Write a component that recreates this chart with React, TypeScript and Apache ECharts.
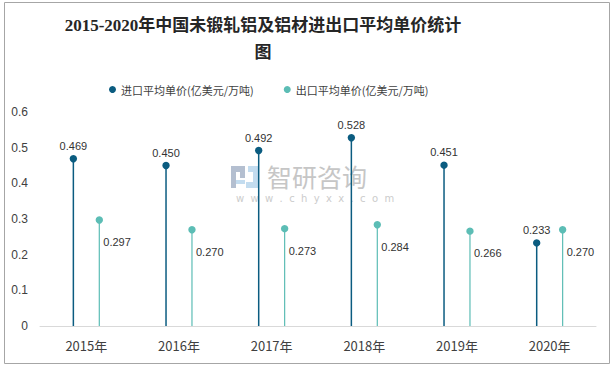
import React, { useEffect, useRef } from "react";
import * as echarts from "echarts";

const years = ["2015年", "2016年", "2017年", "2018年", "2019年", "2020年"];
const importPrice = [0.469, 0.45, 0.492, 0.528, 0.451, 0.233];
const exportPrice = [0.297, 0.27, 0.273, 0.284, 0.266, 0.27];
const yTicks = { min: 0, max: 0.6, interval: 0.1 };
const seriesNames = ["进口平均单价(亿美元/万吨)", "出口平均单价(亿美元/万吨)"];
const titleText = "2015-2020年中国未锻轧铝及铝材进出口平均单价统计\n图";

const IMPORT_COLOR = "#0b5c80";
const EXPORT_COLOR = "#5cbdb5";
const LABEL_FONT = "Liberation Sans, Noto Sans, sans-serif";

function makeRender(color: string, side: number, lineWidth: number, isImport: boolean) {
  return (params: any, api: any) => {
    const idx = api.value(0);
    const v = api.value(1);
    const top = api.coord([idx, v]);
    const base = api.coord([idx, 0]);
    const band = api.size([1, 0])[0];
    const dx = side * band * 0.14;
    const cx = top[0] + dx;
    const cy = top[1];
    return {
      type: "group",
      children: [
        {
          type: "line",
          shape: { x1: cx, y1: cy, x2: base[0] + dx, y2: base[1] },
          style: { stroke: color, lineWidth },
        },
        {
          type: "circle",
          shape: { cx, cy, r: 3.7 },
          style: { fill: color },
        },
        {
          type: "text",
          style: isImport
            ? {
                text: v.toFixed(3),
                x: cx,
                y: cy - 13,
                align: "center",
                verticalAlign: "middle",
                fill: "#333333",
                font: `11px ${LABEL_FONT}`,
              }
            : {
                text: v.toFixed(3),
                x: cx + 4,
                y: cy + 22,
                align: "left",
                verticalAlign: "middle",
                fill: "#333333",
                font: `11px ${LABEL_FONT}`,
              },
        },
      ],
    };
  };
}

export default function App() {
  const ref = useRef<HTMLDivElement>(null);
  useEffect(() => {
    if (!ref.current) return;
    const chart = echarts.init(ref.current, null, { renderer: "svg" });
    chart.setOption({
      animation: false,
      backgroundColor: "#ffffff",
      graphic: [
        {
          type: "rect",
          shape: { x: 4.5, y: 2.5, width: 605, height: 361 },
          style: { fill: "none", stroke: "#a6a6a6", lineWidth: 1 },
          z: 0,
        },
        {
          type: "text",
          x: 263,
          y: 12,
          style: {
            text: titleText,
            align: "center",
            verticalAlign: "top",
            lineHeight: 27,
            fill: "#262626",
            font: "bold 17px 'Liberation Serif', 'Noto Sans CJK SC', serif",
          },
          z: 1,
        },
        {
          type: "group",
          z: 0,
          children: [
            { type: "rect", shape: { x: 231, y: 166, width: 14, height: 6 }, style: { fill: "#b4bfd0" } },
            { type: "rect", shape: { x: 231, y: 166, width: 5, height: 22 }, style: { fill: "#b4bfd0" } },
            { type: "rect", shape: { x: 240, y: 166, width: 5, height: 12 }, style: { fill: "#b4bfd0" } },
            { type: "rect", shape: { x: 236, y: 180, width: 9, height: 4 }, style: { fill: "#c3dcef" } },
            { type: "rect", shape: { x: 248, y: 166, width: 10, height: 6 }, style: { fill: "#c3dcef" } },
            { type: "rect", shape: { x: 253, y: 166, width: 5, height: 22 }, style: { fill: "#c3dcef" } },
            { type: "rect", shape: { x: 246, y: 182, width: 12, height: 6 }, style: { fill: "#c3dcef" } },
            {
              type: "text",
              x: 267,
              y: 176,
              style: {
                text: "智研咨询",
                verticalAlign: "middle",
                fill: "#c6c6c6",
                font: "25px 'Noto Sans CJK SC', sans-serif",
              },
            },
            {
              type: "text",
              x: 236,
              y: 198,
              style: {
                text: "w  w  w  .  c  h  y  x  x  .  c  o  m",
                verticalAlign: "middle",
                fill: "#cccccc",
                font: "10px 'DejaVu Sans', sans-serif",
              },
            },
          ],
        },
      ],
      legend: {
        data: seriesNames,
        left: 104,
        top: 79,
        icon: "circle",
        itemWidth: 7,
        itemHeight: 7,
        itemGap: 30,
        textStyle: {
          fontSize: 11,
          color: "#404040",
          fontFamily: "Noto Sans CJK SC, sans-serif",
        },
      },
      grid: { left: 40, right: 19, top: 112, bottom: 42 },
      xAxis: {
        type: "category",
        data: years,
        axisTick: { show: false },
        axisLine: { lineStyle: { color: "#d9d9d9", width: 1 } },
        axisLabel: {
          fontSize: 13,
          color: "#404040",
          margin: 13,
          fontFamily: "Noto Sans CJK SC, sans-serif",
        },
      },
      yAxis: {
        type: "value",
        min: yTicks.min,
        max: yTicks.max,
        interval: yTicks.interval,
        splitLine: { show: false },
        axisLine: { show: false },
        axisTick: { show: false },
        axisLabel: {
          fontSize: 12,
          color: "#404040",
          margin: 12,
          fontFamily: LABEL_FONT,
        },
      },
      series: [
        {
          name: seriesNames[0],
          type: "custom",
          itemStyle: { color: IMPORT_COLOR },
          renderItem: makeRender(IMPORT_COLOR, -1, 1.5, true),
          data: importPrice.map((v, i) => [i, v]),
          z: 3,
        },
        {
          name: seriesNames[1],
          type: "custom",
          itemStyle: { color: EXPORT_COLOR },
          renderItem: makeRender(EXPORT_COLOR, 1, 1.2, false),
          data: exportPrice.map((v, i) => [i, v]),
          z: 3,
        },
      ],
    });
    return () => chart.dispose();
  }, []);
  return (
    <div
      ref={ref}
      style={{ position: "fixed", left: 0, top: 0, width: 615, height: 368 }}
    />
  );
}
